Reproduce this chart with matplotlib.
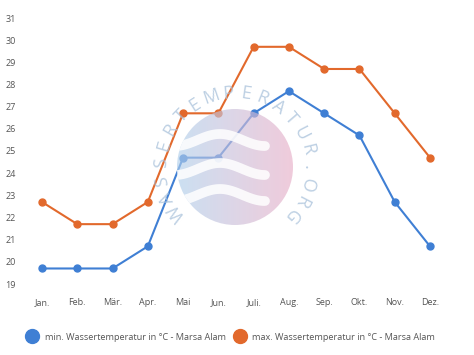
import numpy as np
import matplotlib
matplotlib.use("Agg")
import matplotlib.pyplot as plt
from matplotlib.patches import Circle
from matplotlib.lines import Line2D

# data
months = ["Jan.", "Feb.", "Mär.", "Apr.", "Mai", "Jun.", "Juli.", "Aug.", "Sep.", "Okt.", "Nov.", "Dez."]
t_min = [19.7, 19.7, 19.7, 20.7, 24.7, 24.7, 26.7, 27.7, 26.7, 25.7, 22.7, 20.7]
t_max = [22.7, 21.7, 21.7, 22.7, 26.7, 26.7, 29.7, 29.7, 28.7, 28.7, 26.7, 24.7]
y_ticks = list(range(19, 32))
label_min = "min. Wassertemperatur in °C - Marsa Alam"
label_max = "max. Wassertemperatur in °C - Marsa Alam"
watermark = "WASSERTEMPERATUR.ORG"

blue = "#3f7fd4"
orange = "#e2692c"
txt = "#555555"

plt.rcParams["font.family"] = ["Open Sans", "DejaVu Sans"]

W, H = 474, 355
fig = plt.figure(figsize=(W / 100, H / 100), dpi=100)

# axes placed so that Jan..Dez sit at x=42..430 px and 19..31 at y=284..18 px
x0, x1 = 42, 430
step = (x1 - x0) / 11
ax = fig.add_axes([(x0 - step / 2) / W, (H - 284) / H, step * 12 / W, 266 / H])
x = np.arange(len(months))
ax.plot(x, t_min, color=blue, lw=1.5, marker="o", ms=5, clip_on=False)
ax.plot(x, t_max, color=orange, lw=1.5, marker="o", ms=5, clip_on=False)
ax.set_xlim(-0.5, 11.5)
ax.set_ylim(19, 31)
ax.set_yticks(y_ticks)
ax.set_xticks(x)
ax.set_xticklabels(months)
ax.tick_params(length=0, labelsize=6.5, colors=txt)
ax.tick_params(axis="x", pad=10)
ax.tick_params(axis="y", pad=6)
for s in ax.spines.values():
    s.set_visible(False)

# watermark overlay
ov = fig.add_axes([0, 0, 1, 1])
ov.set_xlim(0, W)
ov.set_ylim(H, 0)
ov.axis("off")
cx, cy, r = 235, 167, 58
grad = np.linspace(0, 1, 256)
c1 = np.array(matplotlib.colors.to_rgb("#afcfeb"))
c2 = np.array(matplotlib.colors.to_rgb("#e8afc8"))
img = (c1[None, :] * (1 - grad[:, None]) + c2[None, :] * grad[:, None])[None, :, :]
circ = Circle((cx, cy), r, transform=ov.transData, facecolor="none", edgecolor="none")
ov.add_patch(circ)
im = ov.imshow(img, extent=[cx - r, cx + r, cy + r, cy - r], aspect="auto", alpha=0.65, zorder=1)
im.set_clip_path(circ)
for wy in [-27, 2, 28]:
    xs = np.linspace(cx - 60, cx + 30, 100)
    ys = cy + wy + 6 * np.sin((xs - cx + 60) / 90 * 2 * np.pi + np.pi / 2)
    ln, = ov.plot(xs, ys, color="white", lw=7, solid_capstyle="round", alpha=0.85, zorder=2)
    ln.set_clip_path(circ)

rt = 74
angles = np.linspace(218, -41, len(watermark))
for ch, a in zip(watermark, angles):
    th = np.deg2rad(a)
    ov.text(cx + rt * np.cos(th), cy - rt * np.sin(th), ch, rotation=a - 90,
            ha="center", va="center", fontsize=13, color="#a7c0da", alpha=0.75,
            rotation_mode="anchor")

# legend
handles = [Line2D([], [], ls="none", marker="o", ms=10, color=blue),
           Line2D([], [], ls="none", marker="o", ms=10, color=orange)]
fig.legend(handles, [label_min, label_max], loc="center", bbox_to_anchor=(0.487, 18 / H),
           ncol=2, frameon=False, fontsize=6.6, labelcolor=txt, handletextpad=0.75,
           columnspacing=0.9, handlelength=1.2)

fig.savefig("out.png", dpi=100)
